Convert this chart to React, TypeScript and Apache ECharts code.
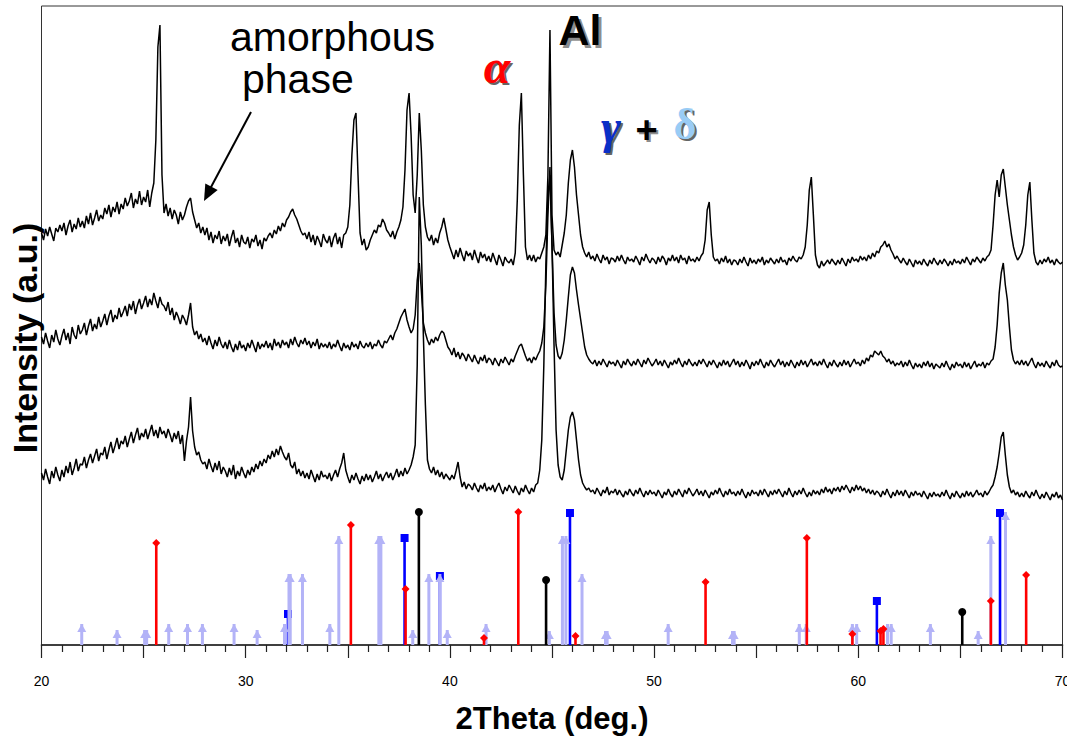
import React, { useEffect, useRef } from "react";
import * as echarts from "echarts";

// Scan grid of the diffractograms (2Theta, degrees)
const SCAN_START = 20;
const SCAN_STEP = 0.1;

// Top pattern (one row per degree, 20.0 ... 69.9, then 70.0)
const traceTop = [
  412, 405, 416, 409, 418, 411, 404, 417, 413, 420,
  414, 422, 410, 419, 425, 413, 421, 416, 427, 418,
  424, 417, 429, 421, 432, 420, 427, 435, 424, 430,
  426, 437, 431, 440, 428, 438, 433, 443, 431, 441,
  436, 447, 439, 444, 452, 437, 446, 441, 454, 440,
  448, 443, 455, 438, 452, 462, 505, 598, 620, 470,
  432, 441, 429, 437, 426, 435, 430, 421, 433, 425,
  430, 438, 444, 447, 433, 425, 417, 422, 412, 418,
  410, 417, 405, 413, 402, 410, 406, 414, 401, 409,
  404, 411, 399, 408, 415, 402, 407, 398, 410, 403,
  401, 408, 397, 406, 403, 410, 399, 405, 396, 407,
  404, 409, 412, 407, 415, 411, 419, 414, 422, 418,
  425, 428, 433, 436, 430, 426, 420, 414, 410, 412,
  406, 413, 403, 410, 400, 409, 404, 398, 411, 405,
  402, 409, 398, 407, 412, 401, 408, 397, 410, 412,
  418, 440, 490, 525, 532, 470, 412, 400, 406, 395,
  398, 405, 410, 415, 412, 420, 418, 426, 422, 415,
  412, 408, 414, 406, 413, 418, 425, 438, 475, 535,
  552, 510, 450, 432, 470, 532, 495, 440, 418, 408,
  404, 410, 400, 407, 402, 412, 418, 427, 416, 405,
  398, 392, 386, 395, 388, 397, 390, 384, 394, 389,
  392, 385, 395, 388, 382, 393, 387, 391, 384, 389,
  383, 392, 386, 380, 390, 385, 379, 388, 384, 382,
  386, 380, 392, 445, 520, 552, 470, 398, 385, 390,
  384, 390, 383, 388, 386, 392, 398, 410, 470, 615,
  430, 395, 390, 393, 388, 400, 412, 430, 462, 485,
  495, 478, 450, 430, 410, 398, 392, 388, 393, 386,
  389, 384, 391, 386, 382, 390, 385, 388, 381, 387,
  386, 383, 389, 384, 390, 385, 381, 388, 384, 386,
  383, 389, 385, 380, 388, 384, 391, 386, 382, 387,
  385, 381, 388, 383, 389, 386, 380, 387, 384, 390,
  384, 388, 382, 390, 385, 387, 381, 389, 384, 386,
  383, 388, 384, 389, 392, 405, 435, 443, 410, 388,
  384, 386, 381, 387, 383, 389, 382, 386, 380, 385,
  384, 380, 386, 382, 388, 383, 379, 387, 382, 385,
  381, 386, 383, 388, 380, 385, 382, 387, 384, 381,
  386, 382, 388, 383, 385, 380, 387, 384, 389, 385,
  383, 388, 386, 390, 398, 420, 455, 468, 430, 390,
  380, 377, 384, 379, 382, 385, 381, 386, 383, 380,
  385, 381, 387, 383, 379, 386, 382, 388, 384, 386,
  383, 389, 385, 388, 384, 390, 386, 392, 388, 394,
  392, 398, 400, 404, 398, 401, 395, 391, 386, 389,
  385, 382, 387, 383, 380, 386, 382, 378, 385, 381,
  384, 380, 386, 382, 379, 385, 381, 387, 383, 380,
  385, 381, 386, 383, 379, 384, 380, 386, 382, 384,
  381, 386, 382, 388, 384, 380, 386, 383, 388, 385,
  382, 387, 384, 388, 390, 395, 420, 450, 465, 448,
  470, 476, 458, 440, 425, 410, 398, 390, 385, 388,
  392, 400, 420, 450, 463, 425, 392, 383, 380, 385,
  381, 386, 383, 388, 382, 385, 380, 386, 383, 381,
  383,
];

// Middle pattern
const traceMiddle = [
  308, 301, 312, 304, 297, 310, 303, 315, 306, 300,
  309, 316, 305, 312, 301, 318, 310, 306, 320, 311,
  315, 322, 310, 319, 326, 314, 321, 316, 328, 318,
  324, 331, 320, 329, 335, 323, 330, 326, 337, 328,
  333, 339, 329, 341, 335, 344, 331, 340, 346, 336,
  342, 349, 338, 346, 340, 352, 344, 337, 348, 341,
  339, 334, 343, 330, 337, 325, 333, 328, 321, 330,
  326, 320, 330, 342, 318, 310, 314, 306, 311, 303,
  307, 300, 309, 302, 296, 305, 299, 308, 301, 297,
  303, 296, 305, 298, 293, 301, 295, 304, 297, 300,
  294, 302, 297, 305, 299, 293, 303, 296, 301, 298,
  304, 297, 302, 295, 306, 299, 303, 297, 305, 300,
  303, 297, 306, 300, 308, 302, 298, 305, 301, 307,
  300, 304, 297, 303, 299, 306, 296, 302, 298, 301,
  297, 303, 296, 301, 298, 305, 299, 294, 302, 297,
  300, 295, 303, 298, 301, 296, 304, 299, 297, 302,
  298, 303, 296, 301, 299, 305, 300, 297, 304, 302,
  306, 310, 305, 312, 316, 322, 328, 332, 336, 325,
  318, 312, 316, 330, 365, 382, 355, 322, 312, 305,
  300, 306, 302, 308, 304, 310, 314, 312, 305, 298,
  295, 290, 297, 288, 293, 286, 292, 289, 284, 291,
  287, 283, 290, 285, 281, 288, 284, 290, 282, 287,
  285, 280, 287, 283, 279, 286, 282, 288, 284, 280,
  286, 283, 289, 294, 299, 301, 295, 289, 284, 287,
  282, 288, 285, 290, 294, 302, 318, 360, 430, 478,
  400, 332, 300, 289, 286, 292, 305, 325, 348, 370,
  378, 372, 355, 340, 326, 312, 298, 290, 286, 283,
  281, 285, 279, 284, 280, 286, 282, 278, 284, 281,
  283, 279, 285, 281, 277, 284, 280, 286, 282, 279,
  284, 280, 286, 282, 278, 285, 281, 287, 283, 279,
  282, 286, 280, 284, 279, 285, 281, 277, 283, 280,
  285, 281, 287, 282, 278, 284, 280, 286, 282, 279,
  283, 279, 285, 281, 286, 282, 278, 284, 280, 285,
  281, 277, 283, 279, 285, 280, 284, 278, 282, 286,
  280, 284, 278, 283, 279, 285, 281, 276, 283, 279,
  284, 280, 286, 281, 277, 283, 279, 285, 281, 278,
  282, 286, 280, 284, 278, 283, 279, 285, 281, 277,
  283, 279, 285, 280, 284, 278, 282, 286, 280, 283,
  279, 284, 280, 286, 281, 277, 283, 279, 285, 281,
  278, 283, 279, 285, 280, 284, 278, 282, 286, 281,
  283, 279, 285, 281, 287, 284, 290, 288, 294, 292,
  290, 294, 289, 287, 283, 286, 281, 284, 279, 282,
  280, 284, 278, 283, 279, 285, 280, 276, 282, 278,
  281, 277, 283, 279, 284, 278, 282, 276, 281, 279,
  277, 282, 278, 284, 279, 275, 281, 277, 283, 279,
  281, 277, 283, 278, 282, 276, 280, 284, 278, 281,
  279, 283, 277, 282, 280, 284, 286, 298, 320, 352,
  372, 382, 360, 345, 318, 295, 285, 281, 284, 280,
  285, 280, 284, 279, 283, 287, 281, 277, 283, 279,
  282, 278, 284, 280, 277, 283, 279, 285, 280, 278,
  279,
];

// Bottom pattern
const traceBottom = [
  172, 165, 176, 168, 161, 174, 167, 178, 170, 164,
  175, 168, 179, 172, 183, 170, 177, 186, 174, 181,
  180, 188, 177, 185, 191, 182, 189, 196, 184, 192,
  190, 198, 186, 195, 203, 192, 199, 207, 196, 204,
  201, 209, 198, 206, 213, 202, 210, 217, 205, 212,
  208, 216, 206, 213, 220, 209, 215, 207, 218, 211,
  214, 207, 216, 210, 203, 212, 206, 214, 201, 210,
  184, 204, 218, 248, 214, 198, 190, 193, 185, 181,
  183, 176, 186, 179, 173, 182, 175, 184, 171, 178,
  174, 168, 177, 170, 180, 166, 174, 169, 178, 172,
  167, 175, 170, 178, 173, 181, 176, 184, 179, 186,
  182, 190, 186, 194, 188, 196, 190, 199, 193, 188,
  185, 192, 180, 177, 183, 171, 176, 169, 174, 167,
  172, 166, 175, 169, 163, 171, 165, 174, 168, 170,
  166, 172, 164, 170, 175, 168, 176, 182, 192, 175,
  168, 162, 170, 165, 172, 166, 161, 169, 164, 171,
  165, 170, 163, 168, 174, 166, 171, 164, 169, 173,
  167, 172, 165, 170, 176, 168, 174, 169, 177, 171,
  175, 180, 188, 200, 280, 448, 400, 310, 240, 185,
  176, 172, 178, 170, 175, 168, 173, 166, 171, 168,
  165, 170, 166, 174, 183, 168, 158, 163, 156, 161,
  159, 155, 162, 157, 153, 160, 156, 162, 154, 158,
  155, 160, 153, 158, 162, 156, 151, 158, 154, 160,
  156, 152, 159, 154, 150, 157, 153, 160, 155, 151,
  157, 153, 160, 162, 175, 205, 280, 380, 450, 470,
  400, 300, 215, 180, 168, 165, 175, 195, 215, 228,
  233, 225, 205, 185, 170, 162, 158, 155, 157, 153,
  155, 151, 157, 153, 149, 155, 152, 158, 150, 154,
  152, 156, 150, 155, 151, 148, 154, 150, 156, 152,
  149, 155, 151, 157, 152, 148, 154, 150, 155, 151,
  153, 149, 155, 151, 147, 153, 150, 156, 151, 148,
  154, 150, 156, 152, 148, 155, 151, 157, 153, 149,
  152, 156, 150, 154, 149, 155, 151, 147, 153, 150,
  155, 151, 157, 152, 148, 154, 150, 156, 151, 153,
  149, 154, 150, 156, 151, 147, 153, 149, 155, 151,
  153, 149, 155, 150, 156, 152, 148, 154, 150, 155,
  151, 156, 152, 148, 154, 150, 157, 152, 148, 154,
  150, 155, 151, 157, 152, 148, 153, 149, 155, 151,
  154, 150, 156, 152, 158, 153, 156, 151, 157, 154,
  158, 153, 159, 155, 160, 156, 152, 158, 154, 160,
  155, 159, 154, 157, 152, 156, 151, 155, 150, 154,
  152, 148, 154, 150, 156, 151, 147, 153, 149, 155,
  150, 154, 149, 155, 151, 147, 153, 149, 154, 150,
  152, 148, 154, 150, 146, 152, 148, 153, 149, 151,
  148, 153, 149, 155, 150, 146, 152, 148, 154, 150,
  147, 152, 148, 154, 149, 153, 148, 151, 155, 150,
  152, 148, 154, 150, 153, 157, 160, 168, 178, 192,
  208, 213, 190, 170, 158, 152, 155, 150, 153, 148,
  152, 148, 154, 150, 147, 153, 149, 155, 150, 146,
  151, 147, 153, 149, 145, 151, 148, 153, 147, 150,
  145,
];

// Reference stick patterns (2Theta, relative intensity)
const alphaPos = [25.62, 35.15, 37.83, 41.67, 43.35, 46.15, 52.52, 57.48, 59.71, 61.09, 61.23, 66.49, 68.22];
const alphaInt = [102, 120, 56, 7, 133, 9, 63, 107, 11, 14, 16, 44, 70];

const gammaPos = [32.07, 37.78, 39.51, 45.88, 60.91, 66.94];
const gammaInt = [31, 107, 69, 132, 44, 132];

const deltaPos = [21.97, 23.7, 25.05, 25.15, 26.23, 27.15, 27.88, 29.43, 30.56, 31.9, 32.12, 32.18, 32.78, 34.12, 34.56, 36.52, 36.62, 38.18, 38.97, 39.51, 39.87, 41.77, 44.87, 45.51, 45.68, 46.47, 47.62, 47.7, 50.69, 53.84, 53.92, 57.11, 57.45, 59.71, 59.92, 61.43, 61.61, 63.53, 65.87, 66.49, 67.21];
const deltaInt = [21, 15, 15, 15, 21, 21, 21, 21, 15, 21, 71, 71, 71, 21, 109, 109, 109, 15, 71, 71, 15, 21, 14, 109, 109, 71, 14, 14, 21, 14, 14, 21, 21, 21, 21, 21, 21, 21, 14, 109, 133];

const alPos = [38.48, 44.71, 65.09];
const alInt = [133, 65, 33];

const X_MIN = 20;
const X_MAX = 70;
const Y_MAX = 639;

const SANS = '"Liberation Sans", Arial, Helvetica, sans-serif';
const SERIF = '"Liberation Serif", "Times New Roman", serif';

function toScan(values: number[]) {
  return values.map((v, i) => [+(SCAN_START + i * SCAN_STEP).toFixed(1), v]);
}

function stemSeries(pos: number[], ints: number[], color: string, width: number, symbol: string, size: any, offset: number[], z: number) {
  const data = pos.map((p, i) => [p, ints[i]]);
  return [
    {
      type: "custom",
      data,
      z,
      silent: true,
      renderItem: (_params: any, api: any) => {
        const x = api.value(0);
        const h = api.value(1);
        const p0 = api.coord([x, 0]);
        const p1 = api.coord([x, h]);
        return {
          type: "line",
          shape: { x1: p0[0], y1: p0[1], x2: p1[0], y2: p1[1] },
          style: { stroke: color, lineWidth: width },
        };
      },
    },
    {
      type: "scatter",
      data,
      z: z + 0.5,
      silent: true,
      symbol,
      symbolSize: size,
      symbolOffset: offset,
      itemStyle: { color, opacity: 1 },
    },
  ];
}

function traceSeries(values: number[]) {
  return {
    type: "line",
    data: toScan(values),
    showSymbol: false,
    silent: true,
    z: 5,
    lineStyle: { color: "#000", width: 1.5 },
  };
}

// Label drawn with a soft offset shadow copy behind it (as in the source figure)
function shadowLabel(x: number, y: number, text: string, font: any, fill: string, shadow: string, off: number) {
  return [
    { type: "text", x: x + off, y: y + off, z: 50, silent: true, style: { text, ...font, fill: shadow, align: "center", verticalAlign: "middle" } },
    { type: "text", x, y, z: 51, silent: true, style: { text, ...font, fill, align: "center", verticalAlign: "middle" } },
  ];
}

export default function App() {
  const ref = useRef<HTMLDivElement>(null);

  useEffect(() => {
    document.body.style.margin = "0";
    if (!ref.current) return;
    const chart = echarts.init(ref.current, null, { renderer: "svg" });

    const option: any = {
      animation: false,
      backgroundColor: "#ffffff",
      grid: {
        left: 41.5,
        right: 4.5,
        top: 6,
        bottom: 91,
        outerBoundsMode: "none",
        containLabel: false,
        show: true,
        borderColor: "#333",
        borderWidth: 1,
        backgroundColor: "transparent",
      },
      xAxis: {
        type: "value",
        min: X_MIN,
        max: X_MAX,
        interval: 5,
        axisLine: { show: true, onZero: false, lineStyle: { color: "#222", width: 1.6 } },
        axisTick: { show: true, length: 13, lineStyle: { color: "#222", width: 1.2 } },
        minorTick: { show: true, splitNumber: 5, length: 7, lineStyle: { color: "#222", width: 1.2 } },
        axisLabel: {
          margin: 29,
          fontSize: 14,
          fontFamily: SANS,
          color: "#000",
          formatter: (v: number) => (v % 10 === 0 ? String(v) : ""),
        },
        splitLine: { show: false },
      },
      yAxis: { type: "value", min: 0, max: Y_MAX, show: false },
      series: [
        ...stemSeries(gammaPos, gammaInt, "#0000ff", 2.6, "rect", 8, [0, 0], 1),
        ...stemSeries(deltaPos, deltaInt, "#b3b3f7", 3, "triangle", [9, 8], [0, 4], 2),
        ...stemSeries(alphaPos, alphaInt, "#ff0000", 2.6, "diamond", 8, [0, 0], 3),
        ...stemSeries(alPos, alInt, "#000000", 2.6, "circle", 8, [0, 0], 4),
        traceSeries(traceTop),
        traceSeries(traceMiddle),
        traceSeries(traceBottom),
      ],
      graphic: [
        { type: "text", x: 230, y: 37, z: 50, silent: true, style: { text: "amorphous", fontSize: 41, fontFamily: SANS, fill: "#000", align: "left", verticalAlign: "middle" } },
        { type: "text", x: 242, y: 79, z: 50, silent: true, style: { text: "phase", fontSize: 41, fontFamily: SANS, fill: "#000", align: "left", verticalAlign: "middle" } },
        { type: "line", z: 50, silent: true, shape: { x1: 251, y1: 112, x2: 210, y2: 189 }, style: { stroke: "#000", lineWidth: 2 } },
        { type: "polygon", z: 50, silent: true, shape: { points: [[204, 201], [217.7, 190.1], [205.3, 183.5]] }, style: { fill: "#000" } },
        ...shadowLabel(497, 66, "α", { fontSize: 48, fontFamily: SERIF, fontWeight: "bold", fontStyle: "italic" }, "#ff0000", "rgba(50,50,50,0.75)", 2),
        ...shadowLabel(580, 30, "Al", { fontSize: 43, fontFamily: SANS, fontWeight: "bold" }, "#000", "rgba(110,110,110,0.8)", 3),
        ...shadowLabel(611, 126, "γ", { fontSize: 48, fontFamily: SERIF, fontWeight: "bold", fontStyle: "italic" }, "#0b2fc7", "rgba(50,50,50,0.75)", 2),
        ...shadowLabel(646.5, 130, "+", { fontSize: 38, fontFamily: SANS, fontWeight: "bold" }, "#000", "rgba(110,110,110,0.8)", 2),
        ...shadowLabel(685, 124, "δ", { fontSize: 44, fontFamily: SERIF, fontWeight: "bold" }, "#99ccf5", "rgba(50,50,50,0.75)", 2),
        {
          type: "text", x: 25, y: 338, rotation: Math.PI / 2, z: 50, silent: true,
          style: { text: "Intensity (a.u.)", fontSize: 34, fontWeight: "bold", fontFamily: SANS, fill: "#000", align: "center", verticalAlign: "middle" },
        },
        {
          type: "text", x: 552, y: 718, z: 50, silent: true,
          style: { text: "2Theta (deg.)", fontSize: 31, fontWeight: "bold", fontFamily: SANS, fill: "#000", align: "center", verticalAlign: "middle" },
        },
      ],
    };

    chart.setOption(option);
    return () => chart.dispose();
  }, []);

  return (
    <div
      ref={ref}
      style={{ position: "absolute", left: 0, top: 0, width: 1067, height: 736, background: "#fff" }}
    />
  );
}
